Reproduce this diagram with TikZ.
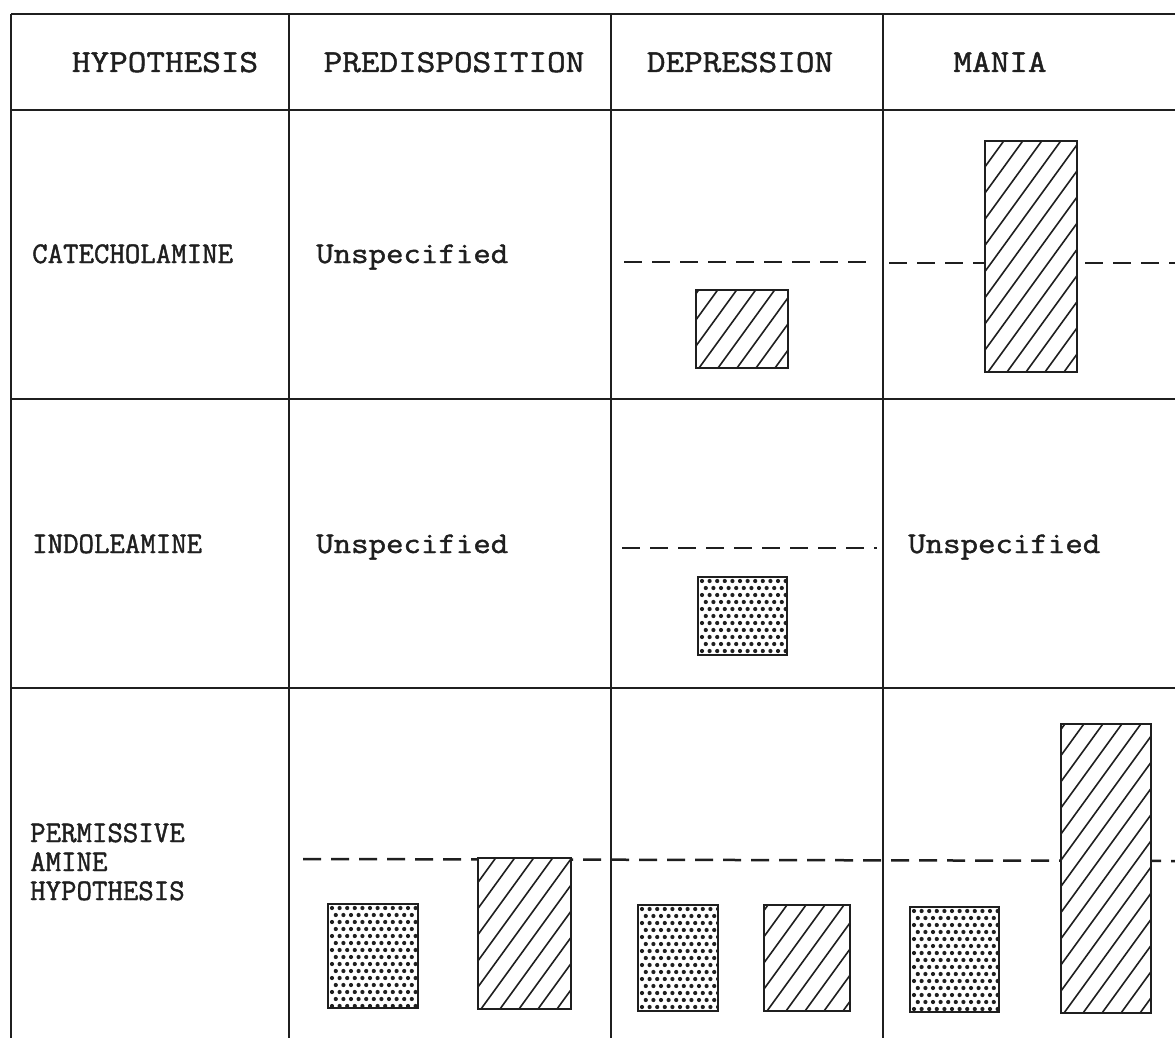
\documentclass[tikz,border=0pt]{standalone}
\usepackage{fontspec}
\newfontfamily\typer{Latin Modern Mono}[FakeStretch=1.13,FakeBold=1.4]
\newfontfamily\typercond{Latin Modern Mono}[FakeBold=1.4]
\definecolor{ink}{gray}{0.12}

% hatched bar: lower-left to upper-right strokes, clipped to the box
\newcommand\hatchbar[4]{%
  \fill[white] (#1,#2) rectangle (#3,#4);
  \begin{scope}
    \clip (#1,#2) rectangle (#3,#4);
    \foreach \k in {0,19,...,342}
      \draw[ink,line width=1.6pt] ({#1-225+\k},#4) -- ++(220,-303);
  \end{scope}
  \draw[bar] (#1,#2) rectangle (#3,#4);
}
% stippled bar: staggered dot screen, clipped to the box
\newcommand\dotbar[4]{%
  \fill[white] (#1,#2) rectangle (#3,#4);
  \begin{scope}
    \clip (#1,#2) rectangle (#3,#4);
    \foreach \i in {0,...,12}{
      \foreach \j in {0,...,15}{
        \fill[ink] ({#1+4+7.6*\i+3.8*mod(\j,2)},{#2+4+7*\j}) circle (2.1pt);
      }
    }
  \end{scope}
  \draw[bar] (#1,#2) rectangle (#3,#4);
}

\begin{document}
\begin{tikzpicture}[x=1pt,y=-1pt,
  rule/.style={draw=ink,line width=2.2pt},
  guide/.style={draw=ink,line width=2.5pt,dash pattern=on 18pt off 10pt},
  bar/.style={draw=ink,line width=2.5pt},
  colhead/.style={anchor=base,inner sep=0pt,text=ink,font=\typer\fontsize{32}{36}\selectfont},
  rowhead/.style={anchor=base west,inner sep=0pt,text=ink,font=\typercond\fontsize{30}{34}\selectfont},
  cell/.style={anchor=base west,inner sep=0pt,text=ink,font=\typer\fontsize{30}{34}\selectfont},
]
\useasboundingbox[fill=white] (0,0) rectangle (1175,1038);

% table rules
\foreach \y in {14,110,399,688}
  \draw[rule] (11,\y) -- (1175,\y);
\foreach \x in {11,289,611,883}
  \draw[rule] (\x,14) -- (\x,1038);

% column headings
\node[colhead] (hHyp)  at (165,72)  {HYPOTHESIS};
\node[colhead] (hPre)  at (454,72)  {PREDISPOSITION};
\node[colhead] (hDep)  at (740,72)  {DEPRESSION};
\node[colhead] (hMan)  at (1000,72) {MANIA};

% row headings
\node[rowhead] (rCat)   at (32,263) {CATECHOLAMINE};
\node[rowhead] (rInd)   at (32,553) {INDOLEAMINE};
\node[rowhead] (rPerA)  at (30,842) {PERMISSIVE};
\node[rowhead] (rPerB)  at (30,871) {AMINE};
\node[rowhead] (rPerC)  at (30,900) {HYPOTHESIS};

% unspecified cells
\node[cell] (uCatPre) at (316,263) {Unspecified};
\node[cell] (uIndPre) at (316,553) {Unspecified};
\node[cell] (uIndMan) at (908,553) {Unspecified};

% normal-level reference lines
\draw[guide] (624,262) -- (868,262);
\draw[guide] (889,263) -- (1175,263);
\draw[guide] (622,548) -- (877,548);
\draw[guide] (303,859) -- (1175,861);

% catecholamine row
\hatchbar{696}{290}{788}{368}
\hatchbar{985}{141}{1077}{372}

% indoleamine row
\dotbar{698}{577}{787}{655}

% permissive amine row
\dotbar{328}{904}{418}{1008}
\hatchbar{478}{858}{571}{1009}
\dotbar{638}{905}{718}{1011}
\hatchbar{764}{905}{850}{1011}
\dotbar{910}{907}{999}{1012}
\hatchbar{1061}{724}{1151}{1013}
\end{tikzpicture}
\end{document}
